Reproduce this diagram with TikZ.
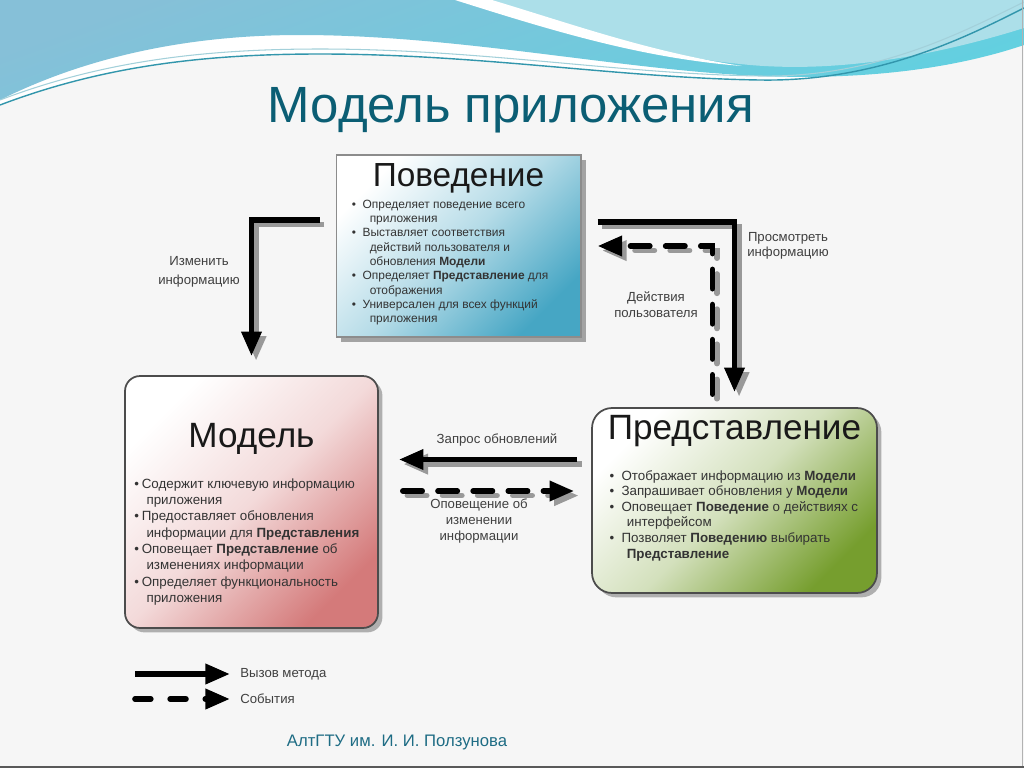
\documentclass[tikz,border=0pt]{standalone}
\usepackage{xcolor}
\usepackage{fontspec}
\setmainfont{Liberation Sans}
\usepackage{tikz}
\usetikzlibrary{positioning,calc,arrows.meta,shadows}

\definecolor{deepteal}{RGB}{11,94,116}
\definecolor{footteal}{RGB}{30,108,132}
\definecolor{behblue}{RGB}{70,166,196}
\definecolor{modrose}{RGB}{212,122,122}
\definecolor{viewgreen}{RGB}{118,158,46}
\definecolor{wavetop}{RGB}{134,192,216}
\definecolor{wavelow}{RGB}{98,208,224}
\definecolor{wavelight}{RGB}{172,223,233}
\definecolor{waveline}{RGB}{50,150,172}
\definecolor{slidebg}{RGB}{246,246,246}

\newcommand{\bul}[1][0.9em]{\makebox[#1][l]{\textbullet}}
\newcommand{\cnt}[1][1.4em]{\hspace*{#1}}

\begin{document}
\begin{tikzpicture}[x=0.02cm, y=-0.02cm,
		behnode/.style={rectangle, draw=black!45, line width=0.6pt, minimum width=4.9cm, minimum height=3.64cm, top color=white, bottom color=behblue, middle color=behblue!40!white, shading angle=45, drop shadow={shadow xshift=2.6pt, shadow yshift=-2.6pt, opacity=0.7}},
		modelnode/.style={rectangle, rounded corners=0.3cm, draw=black!70, line width=1pt, minimum width=5.06cm, minimum height=5.04cm, top color=white, bottom color=modrose, middle color=modrose!28!white, shading angle=45, drop shadow={shadow xshift=2.5pt, shadow yshift=-2.5pt, opacity=0.6}},
		viewnode/.style={rectangle, rounded corners=0.4cm, draw=black!70, line width=1pt, minimum width=5.7cm, minimum height=3.7cm, top color=white, bottom color=viewgreen, middle color=viewgreen!32!white, shading angle=45, drop shadow={shadow xshift=2.5pt, shadow yshift=-2.5pt, opacity=0.6}},
		boxtitle/.style={font=\fontsize{20}{24}\selectfont, text=black!90, inner sep=0pt},
		listtext/.style={align=left, inner sep=0pt, text=black!80},
		lbl/.style={align=center, inner sep=0pt, text=black!75, font=\fontsize{7.5}{10.5}\selectfont},
		conn/.style={line width=3.2pt, line join=miter, -{Triangle[length=14pt,width=11pt]}},
		shadowed/.style={preaction={draw=black!40, line width=3.2pt, transform canvas={shift={(2.6pt,-2.6pt)}}, #1}},
		shadowed/.default={},
		call/.style={conn, shadowed},
		event/.style={conn, line cap=round, dash pattern=on 11pt off 9pt, shadowed={line cap=round, dash pattern=on 11pt off 9pt}},
		]
		\useasboundingbox (0,0) rectangle (1024,768);
		%Background
		\fill[slidebg] (0,0) rectangle (1024,768);
		\fill[white] (0,0) -- (1024,0) -- (1024,8) .. controls (970,35) and (880,82) .. (760,80) .. controls (620,78) and (480,54) .. (320,54) .. controls (200,54) and (100,67) .. (0,105) -- cycle;
		\shade[top color=wavetop, bottom color=wavelow, shading angle=20] (0,0) -- (1024,0) -- (1024,45) .. controls (950,70) and (860,80) .. (760,76) .. controls (620,70) and (460,35) .. (300,35) .. controls (180,35) and (80,60) .. (0,100) -- cycle;
		\fill[wavelight] (480,0) .. controls (570,25) and (650,55) .. (740,64) .. controls (850,76) and (960,48) .. (1024,28) -- (1024,0) -- cycle;
		\fill[white] (455,0) .. controls (550,30) and (640,58) .. (742,66) .. controls (650,52) and (575,25) .. (492,0) -- cycle;
		\draw[waveline!45, line width=0.6pt] (0,100) .. controls (100,62) and (200,49) .. (320,49) .. controls (480,49) and (620,74) .. (760,76) .. controls (880,78) and (970,28) .. (1024,2);
		\draw[waveline, line width=0.8pt] (0,105) .. controls (100,67) and (200,54) .. (320,54) .. controls (480,54) and (620,78) .. (760,80) .. controls (880,82) and (970,35) .. (1024,8);
		\draw[black!30, line width=0.5pt] (1022,0) -- (1022,768);
		\draw[black!65, line width=1pt] (0,767) -- (1024,767);
		
		%Nodes
		\node[font=\fontsize{29}{33}\selectfont, text=deepteal, anchor=base, inner sep=0pt] (title) at (511,122) {Модель приложения};
		
		\node[behnode] (beh) at (458.5,246) {};
		\node[modelnode] (model) at (251.5,502) {};
		\node[viewnode] (view) at (734.5,500.5) {};
		
		\node[boxtitle, font=\fontsize{19}{23}\selectfont, anchor=base] (behT) at ($(beh.north)+(0,32)$) {Поведение};
		\node[boxtitle, anchor=base] (modelT) at ($(model.north)+(0,72)$) {Модель};
		\node[boxtitle, anchor=base] (viewT) at ($(view.north)+(0,32)$) {Представление};
		
		\node[listtext, font=\fontsize{6.8}{8.15}\selectfont, anchor=north west] (behL) at ($(beh.north west)+(16,45)$) {\bul Определяет поведение всего\\\cnt[1.5em]приложения\\\bul Выставляет соответствия\\\cnt[1.5em]действий пользователя и\\\cnt[1.5em]обновления \textbf{Модели}\\\bul Определяет \textbf{Представление} для\\\cnt[1.5em]отображения\\\bul Универсален для всех функций\\\cnt[1.5em]приложения};
		\node[listtext, font=\fontsize{7.6}{9.3}\selectfont, anchor=north west] (modelL) at ($(model.north west)+(10,103)$) {\bul[0.55em]Содержит ключевую информацию\\\cnt[0.9em]приложения\\\bul[0.55em]Предоставляет обновления\\\cnt[0.9em]информации для \textbf{Представления}\\\bul[0.55em]Оповещает \textbf{Представление} об\\\cnt[0.9em]изменениях информации\\\bul[0.55em]Определяет функциональность\\\cnt[0.9em]приложения};
		\node[listtext, font=\fontsize{7.6}{8.85}\selectfont, anchor=north west] (viewL) at ($(view.north west)+(18,63)$) {\bul Отображает информацию из \textbf{Модели}\\\bul Запрашивает обновления у \textbf{Модели}\\\bul Оповещает \textbf{Поведение} о действиях с\\\cnt[1.3em]интерфейсом\\\bul Позволяет \textbf{Поведению} выбирать\\\cnt[1.3em]\textbf{Представление}};
		
		\node[lbl, font=\fontsize{7.5}{10.8}\selectfont] (lchange) at (199,272) {Изменить\\информацию};
		\node[lbl, font=\fontsize{7.5}{8.6}\selectfont] (lview) at (788,246) {Просмотреть\\информацию};
		\node[lbl, font=\fontsize{7.5}{9}\selectfont] (lact) at (656,305) {Действия\\пользователя};
		\node[lbl] (lreq) at (497,440) {Запрос обновлений};
		\node[lbl, font=\fontsize{7.5}{9}\selectfont] (lnote) at (479,521) {Оповещение об\\изменении\\информации};
		
		\node[lbl, anchor=west] (lgcall) at (240,674) {Вызов метода};
		\node[lbl, anchor=west] (lgevent) at (240,699) {События};
		\coordinate (lgA) at (135,674);
		\coordinate (lgB) at (135,699);
		
		\node[font=\fontsize{9.5}{11}\selectfont, text=footteal, inner sep=0pt] (foot) at (397,742) {АлтГТУ им. И. И. Ползунова};
		
		%Lines
		\coordinate (cB1) at ($(beh.west)+(-16,-26)$);
		\coordinate (cB2) at ($(beh.east)+(16,-24)$);
		\coordinate (cV1) at ($(view.west)+(-14,-41)$);
		\coordinate (cM1) at ($(model.east)+(24,-11)$);
		
		\draw[call, shorten >=0.38cm] (cB1) -| (model.north);
		\draw[call, shorten >=0.3cm] (cB2) -| (view.north);
		\draw[event, shorten <=0.26cm, shorten >=0.32cm] ($(view.north)+(-22,0)$) |- (beh.east);
		\draw[call, shorten >=0.4cm] (cV1) -- (cV1 -| model.east);
		\draw[event, shorten >=0.34cm] (cM1) -- (cM1 -| view.west);
		
		\draw[conn, shorten >=0.2cm] (lgA) -- (lgcall.west);
		\draw[conn, line cap=round, dash pattern=on 9pt off 11pt, shorten >=0.2cm] (lgB) -- (lgevent.west);
		
	\end{tikzpicture}
\end{document}
